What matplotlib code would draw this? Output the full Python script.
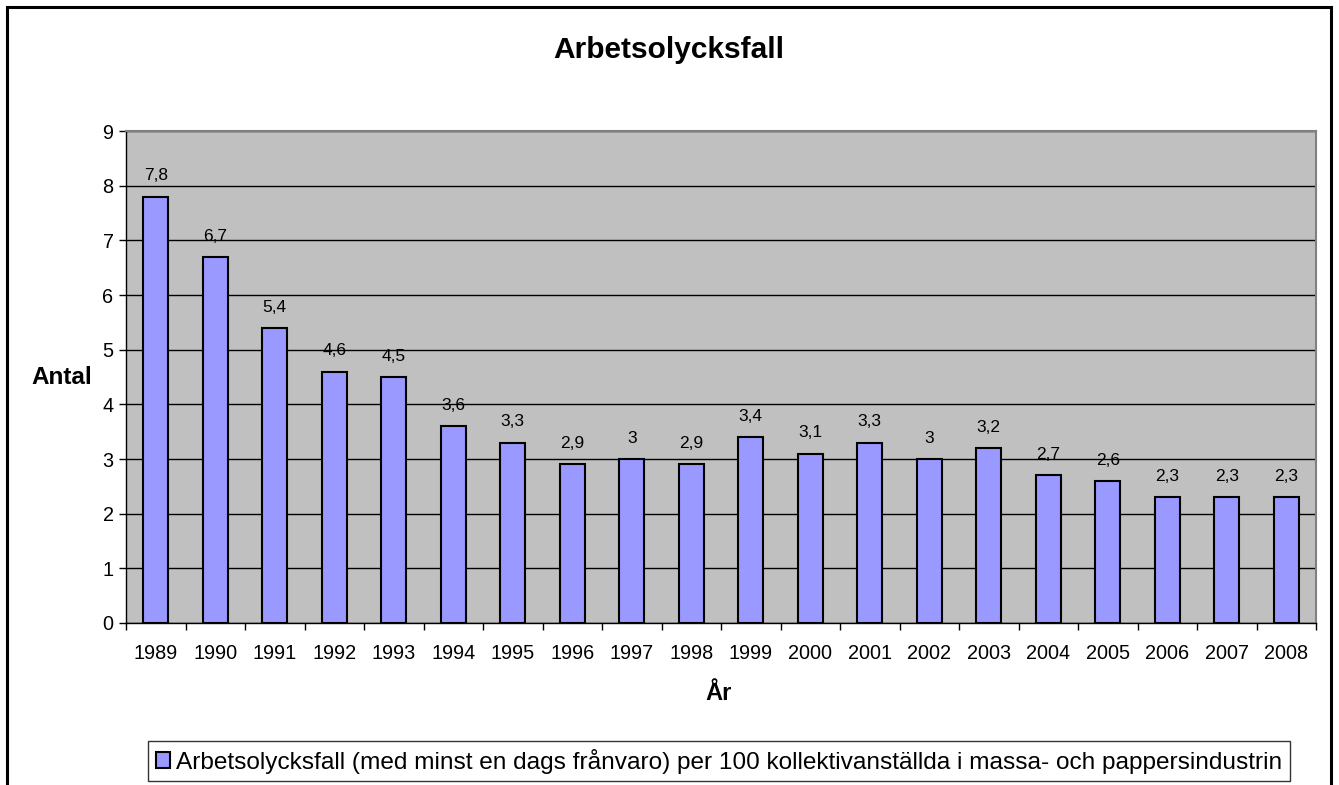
import numpy as np
import matplotlib.pyplot as plt
from matplotlib.patches import Rectangle

plt.rcParams['font.family'] = ['Liberation Sans', 'DejaVu Sans']

# Data
years = [str(y) for y in range(1989, 2009)]
values = [7.8, 6.7, 5.4, 4.6, 4.5, 3.6, 3.3, 2.9, 3.0, 2.9,
          3.4, 3.1, 3.3, 3.0, 3.2, 2.7, 2.6, 2.3, 2.3, 2.3]
series_name = ("Arbetsolycksfall (med minst en dags frånvaro) per 100 "
               "kollektivanställda i massa- och pappersindustrin")

W, H = 1339, 785
fig = plt.figure(figsize=(W / 100, H / 100), dpi=100)

# outer chart border (bottom runs off the image)
fig.patches.append(Rectangle((7 / W, -0.05), (1331 - 7) / W, 1.05 - 7 / H,
                             transform=fig.transFigure, fill=False,
                             edgecolor='black', linewidth=2.2, zorder=0))

ax = fig.add_axes([126 / W, 1 - 623 / H, (1316 - 126) / W, (623 - 131) / H])
ax.set_facecolor('#C0C0C0')

x = np.arange(len(years))
bars = ax.bar(x, values, width=0.42, color='#9999FF', edgecolor='black',
              linewidth=1.5, zorder=3, label=series_name)

for xi, v in zip(x, values):
    ax.annotate(f"{v:g}".replace('.', ','), (xi, v), xytext=(0, 9.5),
                textcoords='offset points', ha='center', va='bottom',
                fontsize=12.5)

ax.set_ylim(0, 9)
ax.set_xlim(-0.5, len(years) - 0.5)
ax.set_yticks(range(0, 10))
ax.yaxis.grid(True, color='black', linewidth=1, zorder=1)
ax.set_axisbelow(True)

ax.set_xticks(x)
ax.set_xticklabels(years, fontsize=14.3)
ax.set_xticks(np.arange(-0.5, len(years)), minor=True)
ax.tick_params(axis='x', which='major', length=0, pad=15)
ax.tick_params(axis='x', which='minor', length=5, width=1, direction='out')
ax.tick_params(axis='y', labelsize=14.3, length=5, width=1, pad=4)

for s in ['top', 'right']:
    ax.spines[s].set_color('#808080')
    ax.spines[s].set_linewidth(1.5)
for s in ['left', 'bottom']:
    ax.spines[s].set_color('black')
    ax.spines[s].set_linewidth(1)

fig.text(669 / W, 1 - 50 / H, 'Arbetsolycksfall', ha='center', va='center',
         fontsize=21.5, fontweight='bold')
fig.text(62 / W, 1 - 377 / H, 'Antal', ha='center', va='center',
         fontsize=17.5, fontweight='bold')
fig.text(719 / W, 1 - 693 / H, 'År', ha='center', va='center',
         fontsize=17, fontweight='bold')

leg = fig.legend(handles=[bars], labels=[series_name], loc='center',
                 bbox_to_anchor=(719 / W, 1 - 761 / H), fontsize=17.6,
                 frameon=True, fancybox=False, shadow=False,
                 handlelength=0.6, handleheight=0.6, handletextpad=0.25,
                 borderpad=0.3, borderaxespad=0)
leg.get_frame().set_edgecolor('black')
leg.get_frame().set_linewidth(1)

fig.savefig('out.png', dpi=100, facecolor='white')
